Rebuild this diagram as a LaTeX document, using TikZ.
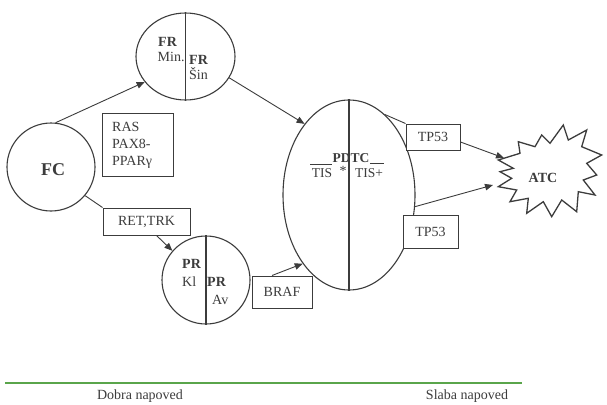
\documentclass[tikz,border=0pt]{standalone}
\usepackage{fontspec}
\setmainfont{Liberation Serif}
\usetikzlibrary{shapes.geometric,arrows.meta}
\definecolor{ink}{RGB}{60,60,60}
\definecolor{lineg}{RGB}{90,165,75}
\tikzset{
  lbl/.style={font=\fontsize{14}{15}\selectfont, text=ink, inner sep=0pt},
  blbl/.style={lbl, font=\fontsize{14}{15}\selectfont\bfseries},
  circ/.style={circle, draw=ink, line width=1.1pt, inner sep=0pt},
  oval/.style={ellipse, draw=ink, line width=1.1pt, inner sep=0pt},
  box/.style={rectangle, draw=ink, line width=1pt, fill=white, inner sep=0pt},
  conn/.style={draw=ink, line width=0.9pt},
  arr/.style={conn, -{Triangle[length=8pt,width=6.5pt]}},
  divider/.style={draw=ink, line width=1.4pt},
}
\begin{document}
\begin{tikzpicture}[x=1pt,y=-1pt]
\useasboundingbox (0,0) rectangle (607,404);
\fill[white] (0,0) rectangle (607,404);

% FC
\node[circ, minimum size=88pt] (fc) at (51,167) {};
\node[lbl, font=\fontsize{18}{20}\selectfont\bfseries] (fct) at (53,170) {FC};

% FR
\node[oval, minimum width=99pt, minimum height=87pt] (fr) at (185.5,56.5) {};
\draw[divider] (fr.north) -- (fr.south);
\node[blbl, anchor=west] (fr1) at (158,42) {FR};
\node[lbl, anchor=west] (fr2) at (157.5,57) {Min.};
\node[blbl, anchor=west] (fr3) at (189,60) {FR};
\node[lbl, anchor=west] (fr4) at (189,74) {Šin};

% PR
\node[circ, minimum size=88pt] (pr) at (206,280) {};
\draw[divider] (pr.north) -- (pr.south);
\node[blbl, anchor=west] (pr1) at (182,264) {PR};
\node[lbl, anchor=west] (pr2) at (182,282) {Kl};
\node[blbl, anchor=west] (pr3) at (207,282) {PR};
\node[lbl, anchor=west] (pr4) at (212,300) {Av};

% PDTC
\node[oval, minimum width=132pt, minimum height=190pt] (pdtc) at (349,195) {};
\draw[divider] (pdtc.north) -- (pdtc.south);
\node[blbl, font=\fontsize{13.5}{15}\selectfont\bfseries] (pdtct) at (351,158) {PDTC};
\draw[conn, line width=0.8pt] (310,164) -- (332,164);
\draw[conn, line width=0.8pt] (370,163) -- (384,163);
\node[lbl, font=\fontsize{13.5}{15}\selectfont] (tis1) at (322,173) {TIS};
\node[lbl] (tisd) at (343,171) {*};
\node[lbl, font=\fontsize{13.5}{15}\selectfont] (tis2) at (369,173) {TIS+};

% boxes
\node[box, minimum width=71pt, minimum height=63pt] (ras) at (138,144.5) {};
\node[lbl, anchor=north west, align=left, font=\fontsize{14}{17}\selectfont] (rast) at (112,122.5) {RAS\\PAX8-\\PPARγ};
\node[box, minimum width=87pt, minimum height=27pt, lbl] (ret) at (146.5,221.5) {RET,TRK};
\node[box, minimum width=60pt, minimum height=32pt, lbl] (braf) at (282,292) {BRAF};
\node[box, minimum width=54pt, minimum height=26pt, lbl] (tp1) at (433,137) {TP53};
\node[box, minimum width=55pt, minimum height=33pt, lbl] (tp2) at (430.5,231.5) {TP53};

% ATC starburst
\draw[ink, line width=1.3pt, fill=white] (498.3,160) -- (520,153.3) -- (518.3,141.7) -- (535,146.7) -- (541.7,135) -- (550,143.3) -- (563.3,125) -- (568.3,140) -- (586.7,130) -- (581.7,146.7) -- (601.7,155) -- (586.7,163.3) -- (596.7,175) -- (583.3,180) -- (595,195) -- (578.3,191.7) -- (576.7,211.7) -- (561.7,200) -- (551.7,216.7) -- (543.3,201.7) -- (526.7,213.3) -- (528.3,198.3) -- (510,201.7) -- (516.7,190) -- (498.3,186.7) -- (511.7,178.3) -- (500,171.7) -- (513.3,168.3) -- cycle;
\node[blbl] (atc) at (543,178) {ATC};
\coordinate (atcA) at (504,158);
\coordinate (atcB) at (493,185);

% connectors
\draw[arr] (fc.84) -- (fr.212);
\draw[arr] (fr.-26) -- (pdtc.122);
\draw[conn] (fc.-40) -- (ret.north west);
\draw[arr] ([xshift=10pt]ret.south) -- (pr.139);
\draw[arr] ([xshift=-10pt]braf.north) -- (pdtc.-124);
\draw[conn] (pdtc.66) -- (tp1.north west);
\draw[arr] ([yshift=-5pt]tp1.east) -- (atcA);
\draw[arr] (pdtc.-10) -- (atcB);

% bottom scale
\draw[lineg, line width=1.6pt] (5,383) -- (522,383);
\node[lbl] (good) at (140,396) {Dobra napoved};
\node[lbl] (bad) at (467,396) {Slaba napoved};
\end{tikzpicture}
\end{document}
